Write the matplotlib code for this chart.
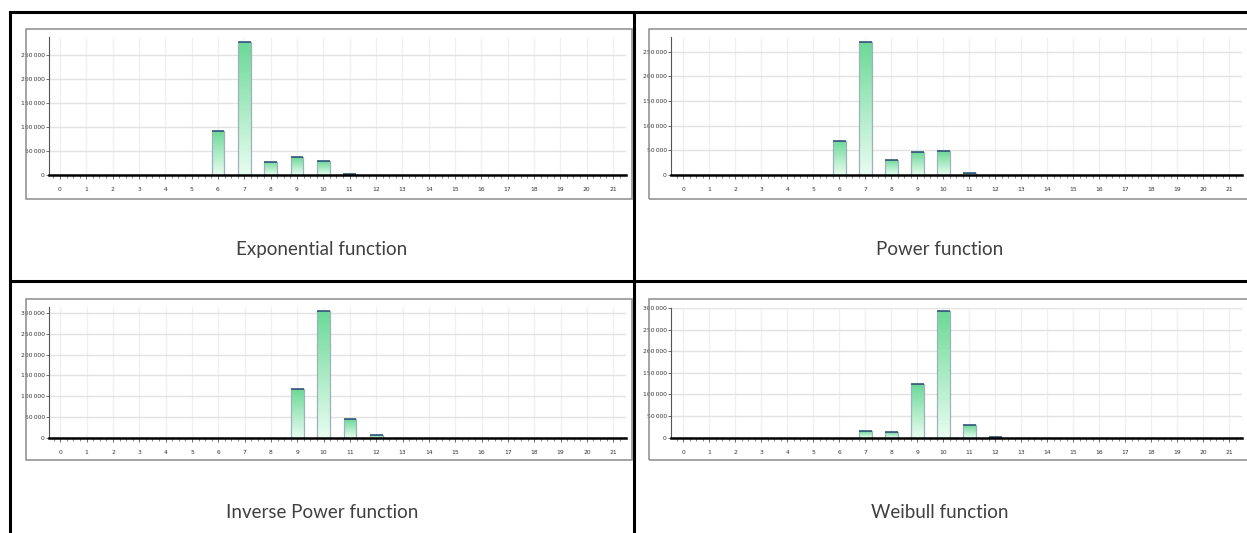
import matplotlib.pyplot as plt
import numpy as np
from matplotlib.colors import LinearSegmentedColormap
from matplotlib.patches import Rectangle
from matplotlib.lines import Line2D
from matplotlib.ticker import FuncFormatter, MultipleLocator, AutoMinorLocator

# bin counts 0..21 for each fitted distribution
bins = np.arange(22)
exponential = [0, 0, 0, 0, 0, 0, 92000, 277000, 28000, 37500, 28500, 2000,
               0, 0, 0, 0, 0, 0, 0, 0, 0, 0]
power = [0, 0, 0, 0, 0, 0, 69000, 270000, 31000, 46000, 48000, 3500,
         0, 0, 0, 0, 0, 0, 0, 0, 0, 0]
inverse_power = [0, 0, 0, 0, 0, 0, 0, 0, 0, 118000, 306000, 45000,
                 5000, 0, 0, 0, 0, 0, 0, 0, 0, 0]
weibull = [0, 0, 0, 0, 0, 0, 0, 16000, 12500, 123500, 292500, 28500,
           2000, 0, 0, 0, 0, 0, 0, 0, 0, 0]

titles = ['Exponential function', 'Power function',
          'Inverse Power function', 'Weibull function']
series = [exponential, power, inverse_power, weibull]
ymax = [287500, 280000, 315000, 300000]

W, H = 1247, 533
fig = plt.figure(figsize=(W / 100, H / 100), dpi=100)

def px(l, t, r, b):
    return [l / W, 1 - b / H, (r - l) / W, (b - t) / H]

green = LinearSegmentedColormap.from_list('g', ['#e9fdf1', '#6bd996'])
grad = np.linspace(0, 1, 256).reshape(-1, 1)
tickfont = dict(family=['Liberation Sans Narrow', 'DejaVu Sans'], size=4.3, color='#333333')

# axes boxes (left, top, right, bottom) in pixels and outer frames
axes_px = [(49, 37, 626, 175), (671, 37, 1242, 175),
           (49, 307, 626, 437.5), (671, 308, 1242, 437.7)]
frames_px = [(26, 29, 632, 199), (649, 29, 1252, 199),
             (26, 299, 632, 459.5), (649, 299, 1252, 459.5)]
zero_px = [60, 683.3, 60.3, 683.3]
step_px = [26.33, 26.0, 26.33, 26.0]
captions = [(322, 249), (940, 249), (322, 512), (940, 512)]

for k in range(4):
    l, t, r, b = axes_px[k]
    fig.add_artist(Rectangle((frames_px[k][0] / W, 1 - frames_px[k][3] / H),
                             (frames_px[k][2] - frames_px[k][0]) / W,
                             (frames_px[k][3] - frames_px[k][1]) / H,
                             transform=fig.transFigure, fill=False,
                             edgecolor='#8c8c8c', linewidth=1.1))
    ax = fig.add_axes(px(l, t, r, b))
    vals = series[k]
    w = 0.48
    bars = ax.bar(bins, vals, width=w, facecolor='none',
                  edgecolor='#9fb0bf', linewidth=0.9, zorder=3)
    for x, v, patch in zip(bins, vals, bars):
        if v <= 0:
            continue
        im = ax.imshow(grad, cmap=green, origin='lower', aspect='auto',
                       extent=[x - w / 2, x + w / 2, 0, v], zorder=2)
        im.set_clip_path(patch)
        ax.plot([x - w / 2, x + w / 2], [v, v], color='#1f4e6e', lw=1.1,
                zorder=4, solid_capstyle='butt')

    xmin = (l - zero_px[k]) / step_px[k]
    xmax = (r - zero_px[k]) / step_px[k]
    ax.set_xlim(xmin, xmax)
    ax.set_ylim(0, ymax[k])
    ax.xaxis.set_major_locator(MultipleLocator(1))
    ax.xaxis.set_minor_locator(AutoMinorLocator(4))
    ax.yaxis.set_major_locator(MultipleLocator(50000))
    ax.yaxis.set_major_formatter(FuncFormatter(lambda v, p: f'{int(v):,}'.replace(',', '\u2009')))
    ax.grid(True, axis='x', color='#f0f0f0', lw=1.0, zorder=0)
    ax.grid(True, axis='y', color='#e2e2e2', lw=1.0, zorder=0)
    ax.set_axisbelow(True)
    for s in ['top', 'right']:
        ax.spines[s].set_visible(False)
    ax.spines['left'].set_color('#555555')
    ax.spines['left'].set_linewidth(0.8)
    ax.spines['bottom'].set_color('black')
    ax.spines['bottom'].set_linewidth(1.8)
    ax.spines['bottom'].set_zorder(5)
    ax.tick_params(axis='x', which='major', length=3, width=0.6, color='#555555', pad=6)
    ax.tick_params(axis='x', which='minor', length=2, width=0.5, color='#555555')
    ax.tick_params(axis='y', length=2, width=0.6, color='#555555', pad=1)
    for lab in ax.get_xticklabels() + ax.get_yticklabels():
        lab.set_fontfamily(tickfont['family'])
        lab.set_fontsize(tickfont['size'])
        lab.set_color(tickfont['color'])

    cx, cy = captions[k]
    fig.text(cx / W, 1 - cy / H, titles[k], ha='center', va='center',
             fontsize=13.5, family='Lato', color='#404040')

# table rules
def rule(x0, y0, x1, y1):
    fig.add_artist(Line2D([x0 / W, x1 / W], [1 - y0 / H, 1 - y1 / H],
                          transform=fig.transFigure, color='black', lw=2.2))

rule(10, 12, W, 12)
rule(10, 12, 10, H)
rule(634, 12, 634, H)
rule(10, 281, W, 281)

fig.savefig('out.png', dpi=100)
